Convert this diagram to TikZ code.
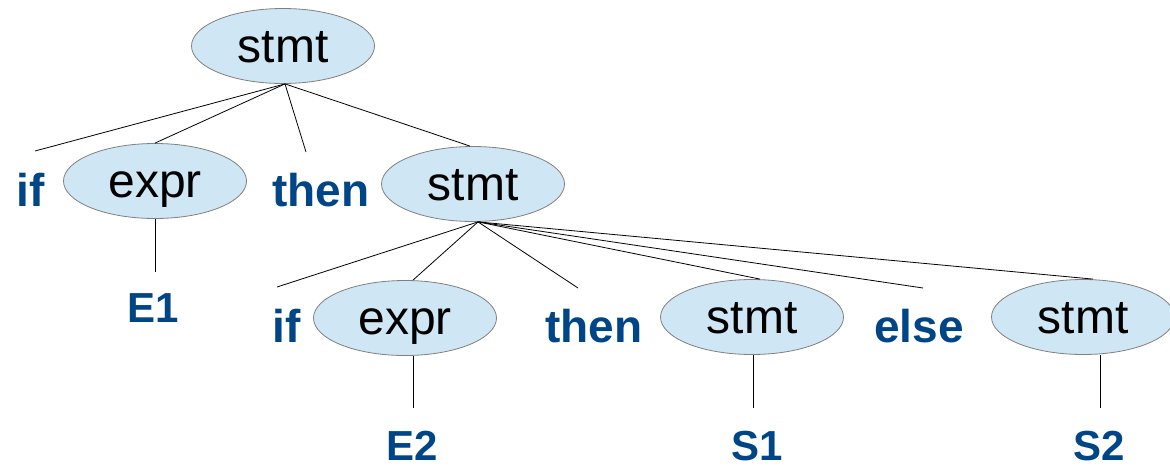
\documentclass[tikz,border=0pt]{standalone}
\usepackage{fontspec}
\setmainfont{Liberation Sans}
\usetikzlibrary{shapes.geometric}
\definecolor{nodefill}{RGB}{207,230,244}
\definecolor{nodeline}{RGB}{128,128,128}
\definecolor{kwblue}{RGB}{0,69,134}
\begin{document}
\begin{tikzpicture}[x=1pt,y=-1pt,
  nt/.style={ellipse,draw=nodeline,line width=0.8pt,fill=nodefill,
    minimum width=183pt,minimum height=75pt,inner sep=0pt,
    font=\fontsize{48}{50}\selectfont,text height=34pt,text depth=2pt},
  kw/.style={anchor=base,inner sep=0pt,text=kwblue,
    font=\fontsize{46}{48}\selectfont\bfseries},
  leaf/.style={anchor=base,inner sep=0pt,text=kwblue,
    font=\fontsize{42}{44}\selectfont\bfseries},
  edge/.style={draw=black,line width=0.8pt}]
\useasboundingbox (0,0) rectangle (1170,466);

% nonterminal nodes
\node[nt] (root)  at (283,46)  {stmt};
\node[nt] (expr1) at (155,181) {expr};
\node[nt] (stmt2) at (473,184) {stmt};
\node[nt] (expr2) at (405,318) {expr};
\node[nt] (stmt3) at (752,317) {stmt};
\node[nt] (stmt4) at (1083,317) {stmt};

% terminals
\node[kw] (if1)   at (31,206)  {if};
\node[kw] (then1) at (321,206) {then};
\node[kw] (if2)   at (287,342) {if};
\node[kw] (then2) at (594,342) {then};
\node[kw] (else)  at (919,342) {else};
\node[leaf] (e1) at (153,322) {E1};
\node[leaf] (e2) at (412,460) {E2};
\node[leaf] (s1) at (757,460) {S1};
\node[leaf] (s2) at (1099,460) {S2};

% free ends of the edges to terminals
\coordinate (if1top)   at (35,151);
\coordinate (then1top) at (306,152);
\coordinate (if2top)   at (277,287);
\coordinate (then2top) at (578,288);
\coordinate (elsetop)  at (923,288);
\coordinate (e1top) at (155,272);
\coordinate (e2top) at (413,408);
\coordinate (s1top) at (753,408);
\coordinate (s2top) at (1100,408);

% edges of the parse tree
\draw[edge] ([xshift=2pt]root.south) -- (if1top);
\draw[edge] ([xshift=2pt]root.south) -- (expr1.north);
\draw[edge] ([xshift=2pt]root.south) -- (then1top);
\draw[edge] ([xshift=2pt]root.south) -- ([xshift=-3pt]stmt2.north);

\draw[edge] ([xshift=5pt]stmt2.south) -- (if2top);
\draw[edge] ([xshift=5pt]stmt2.south) -- ([xshift=8pt]expr2.north);
\draw[edge] ([xshift=5pt]stmt2.south) -- (then2top);
\draw[edge] ([xshift=5pt]stmt2.south) -- ([xshift=8pt]stmt3.north);
\draw[edge] ([xshift=5pt]stmt2.south) -- (elsetop);
\draw[edge] ([xshift=5pt]stmt2.south) -- ([xshift=10pt]stmt4.north);

\draw[edge] (expr1.south) -- (e1top);
\draw[edge] ([xshift=8pt]expr2.south) -- (e2top);
\draw[edge] ([xshift=1pt]stmt3.south) -- (s1top);
\draw[edge] ([xshift=17pt]stmt4.south) -- (s2top);
\end{tikzpicture}
\end{document}
